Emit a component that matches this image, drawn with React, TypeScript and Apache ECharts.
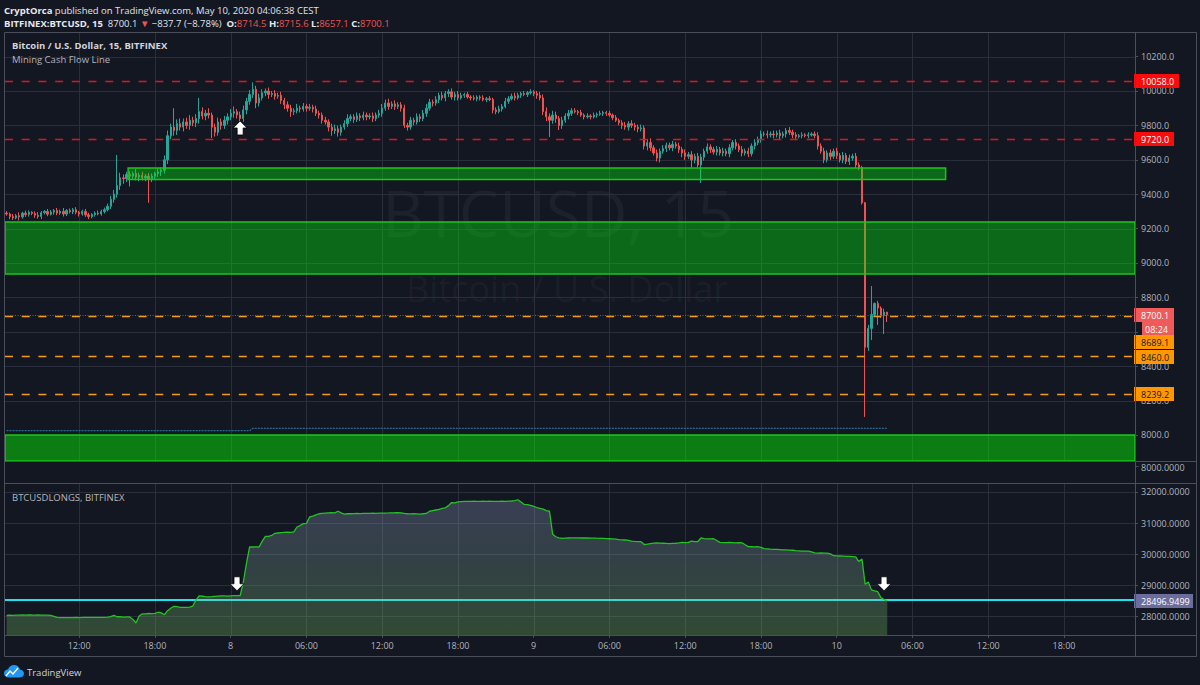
import React, { useEffect, useRef } from "react";
import * as echarts from "echarts";

echarts.graphic.registerShape(
  "tvcloud",
  echarts.graphic.extendPath(
    "M5,14 C2.2,14 0,11.8 0,9.2 C0,6.8 1.8,5 4.1,4.7 C4.8,2 7.2,0 10,0 C13,0 15.4,2.2 15.9,5 C18.2,5.2 20,7 20,9.4 C20,12 17.9,14 15.4,14 Z",
    {}
  )
);

// ---------------- DATA ----------------
const startTime = Date.UTC(2020, 4, 7, 6, 15); // first 15-minute bar: May 7 06:15
const totalSlots = 358; // bars visible across the time axis (incl. empty future space)
const firstOpen = 9290;

const closes = [
  9285, 9270, 9262, 9275, 9268, 9290, 9282, 9295, 9288, 9278,
  9270, 9292, 9300, 9284, 9296, 9305, 9290, 9300, 9285, 9305,
  9298, 9310, 9295, 9285, 9300, 9280, 9270, 9282, 9290, 9285,
  9300, 9310, 9330, 9370, 9400, 9450, 9495, 9490, 9515, 9505,
  9520, 9500, 9510, 9495, 9505, 9490, 9505, 9520, 9530, 9540,
  9600, 9740, 9790, 9770, 9810, 9790, 9820, 9800, 9830, 9815,
  9840, 9880, 9855, 9870, 9860, 9790, 9760, 9820, 9800, 9830,
  9850, 9870, 9880, 9860, 9840, 9890, 9940, 9980, 10010, 9930,
  9960, 9990, 10000, 9980, 9985, 9970, 9975, 9945, 9920, 9900,
  9880, 9885, 9900, 9895, 9910, 9900, 9905, 9895, 9870, 9860,
  9830, 9820, 9790, 9770, 9780, 9760, 9790, 9810, 9840, 9850,
  9835, 9855, 9845, 9860, 9850, 9855, 9840, 9860, 9870, 9900,
  9930, 9910, 9925, 9910, 9920, 9900, 9800, 9790, 9830, 9820,
  9850, 9840, 9870, 9900, 9935, 9930, 9950, 9975, 9960, 9985,
  9995, 9965, 9980, 9960, 9975, 9980, 9965, 9960, 9955, 9965,
  9960, 9950, 9955, 9950, 9890, 9880, 9895, 9910, 9940, 9955,
  9970, 9960, 9975, 9985, 9980, 9990, 9995, 9985, 9975, 9960,
  9880, 9850, 9830, 9860, 9840, 9800, 9830, 9855, 9870, 9885,
  9880, 9875, 9860, 9850, 9855, 9850, 9860, 9865, 9870, 9875,
  9870, 9860, 9845, 9830, 9815, 9800, 9790, 9810, 9800, 9790,
  9780, 9785, 9680, 9700, 9670, 9640, 9610, 9650, 9665, 9685,
  9670, 9690, 9680, 9660, 9640, 9620, 9630, 9600, 9620, 9570,
  9615, 9650, 9675, 9660, 9645, 9660, 9640, 9650, 9635, 9670,
  9700, 9680, 9660, 9640, 9650, 9635, 9680, 9700, 9720, 9750,
  9750, 9745, 9750, 9745, 9755, 9740, 9750, 9770, 9760, 9745,
  9735, 9740, 9745, 9740, 9745, 9750, 9740, 9680, 9650, 9600,
  9640, 9620, 9650, 9625, 9600, 9625, 9590, 9610, 9620, 9570,
  9555, 9350, 8510, 8620, 8700, 8765, 8738, 8695, 8714.5, 8700.1,
];

const upperWicks = [
  12, 8, 15, 10, 20, 8, 14, 10, 6, 12,
  18, 10, 8, 14, 12, 9, 15, 10, 20, 8,
  12, 10, 15, 8, 10, 14, 12, 8, 10, 15,
  10, 12, 15, 20, 25, 178, 30, 20, 15, 18,
  12, 25, 15, 20, 12, 18, 15, 10, 20, 15,
  25, 30, 20, 110, 25, 30, 20, 25, 30, 20,
  25, 80, 25, 20, 30, 15, 20, 25, 20, 25,
  20, 25, 30, 15, 20, 25, 20, 25, 40, 20,
  25, 20, 15, 20, 15, 20, 15, 20, 15, 20,
  20, 15, 25, 15, 20, 15, 20, 15, 20, 15,
  15, 20, 15, 20, 25, 20, 15, 20, 25, 15,
  15, 20, 15, 20, 15, 15, 20, 15, 20, 25,
  20, 25, 15, 20, 15, 15, 20, 15, 20, 15,
  20, 15, 20, 25, 20, 15, 20, 15, 20, 15,
  15, 20, 15, 20, 15, 10, 15, 10, 15, 10,
  10, 15, 10, 15, 10, 15, 20, 15, 20, 15,
  15, 20, 15, 10, 15, 10, 15, 10, 15, 20,
  20, 25, 20, 25, 20, 15, 20, 15, 20, 15,
  15, 10, 15, 10, 15, 10, 15, 10, 15, 10,
  10, 15, 10, 15, 10, 15, 20, 15, 20, 15,
  15, 20, 15, 20, 25, 15, 20, 15, 20, 15,
  15, 20, 15, 20, 15, 20, 15, 20, 15, 20,
  20, 15, 20, 15, 15, 20, 15, 20, 15, 20,
  15, 20, 15, 20, 15, 20, 15, 20, 15, 20,
  15, 20, 15, 20, 15, 20, 15, 15, 20, 15,
  15, 10, 15, 10, 15, 10, 15, 20, 15, 20,
  15, 20, 15, 20, 15, 20, 15, 20, 15, 20,
  15, 10, 5, 20, 166, 5, 15, 10, 20, 1.1,
];

const lowerWicks = [
  10, 15, 12, 8, 20, 10, 14, 12, 10, 15,
  12, 15, 10, 12, 8, 15, 12, 10, 15, 12,
  10, 14, 12, 15, 10, 12, 15, 10, 12, 8,
  10, 12, 10, 15, 20, 20, 25, 30, 20, 60,
  15, 20, 25, 15, 20, 140, 20, 15, 20, 25,
  20, 25, 20, 30, 25, 20, 25, 20, 25, 20,
  25, 30, 20, 25, 20, 63, 25, 20, 25, 20,
  25, 20, 25, 20, 30, 20, 25, 20, 20, 30,
  20, 15, 20, 25, 15, 20, 15, 20, 25, 20,
  30, 20, 15, 20, 15, 20, 15, 20, 15, 20,
  20, 15, 25, 30, 20, 25, 20, 15, 20, 15,
  20, 15, 20, 15, 20, 15, 20, 15, 15, 20,
  15, 20, 15, 20, 15, 20, 15, 20, 15, 20,
  15, 20, 15, 20, 15, 20, 15, 20, 15, 20,
  20, 15, 20, 15, 10, 15, 10, 15, 10, 15,
  15, 10, 15, 10, 20, 15, 10, 15, 10, 15,
  10, 15, 10, 15, 10, 15, 10, 15, 20, 15,
  20, 25, 97, 20, 25, 27, 20, 15, 20, 15,
  10, 15, 10, 15, 10, 15, 10, 15, 10, 15,
  15, 10, 15, 10, 15, 20, 15, 20, 15, 20,
  20, 15, 20, 25, 20, 15, 20, 25, 15, 20,
  15, 20, 15, 20, 25, 20, 15, 45, 20, 15,
  105, 20, 15, 20, 15, 20, 15, 20, 15, 20,
  15, 20, 15, 20, 15, 20, 15, 20, 15, 20,
  15, 20, 15, 20, 15, 20, 15, 20, 15, 20,
  15, 10, 15, 10, 15, 10, 15, 20, 15, 20,
  15, 20, 15, 20, 15, 20, 15, 20, 15, 20,
  15, 10, 405, 20, 68, 15, 98, 15, 108, 43,
];

const longs = [
  28030, 28035, 28032, 28040, 28038, 28042, 28040, 28045, 28042, 28040,
  28044, 28040, 28038, 28036, 28030, 28000, 27965, 27960, 27958, 27955,
  27958, 27960, 27962, 27960, 27962, 27965, 27964, 27966, 27965, 27968,
  27966, 27968, 27970, 27990, 28030, 27985, 27990, 27975, 27980, 27978,
  27900, 27785, 28010, 28080, 28075, 28090, 28086, 28095, 28130, 28110,
  28050, 28180, 28260, 28322, 28310, 28290, 28285, 28290, 28295, 28330,
  28520, 28654, 28645, 28630, 28625, 28630, 28640, 28650, 28660, 28655,
  28650, 28660, 28665, 28662, 28665, 29100, 29700, 30230, 30230, 30235,
  30230, 30420, 30574, 30570, 30600, 30670, 30680, 30690, 30700, 30710,
  30700, 30715, 30873, 30920, 30980, 30990, 31195, 31220, 31260, 31300,
  31310, 31320, 31330, 31335, 31330, 31380, 31330, 31290, 31300, 31300,
  31305, 31310, 31305, 31310, 31312, 31310, 31315, 31312, 31318, 31320,
  31322, 31325, 31330, 31332, 31335, 31330, 31310, 31300, 31298, 31300,
  31295, 31290, 31300, 31310, 31380, 31400, 31420, 31440, 31470, 31490,
  31560, 31660, 31650, 31680, 31690, 31695, 31700, 31700, 31705, 31700,
  31700, 31705, 31700, 31702, 31700, 31698, 31700, 31705, 31700, 31705,
  31710, 31720, 31750, 31680, 31600, 31590, 31570, 31540, 31500, 31470,
  31450, 31400, 31380, 30640, 30560, 30520, 30510, 30515, 30520, 30522,
  30525, 30522, 30520, 30521, 30520, 30518, 30515, 30512, 30510, 30505,
  30500, 30495, 30490, 30480, 30465, 30460, 30455, 30440, 30420, 30410,
  30405, 30400, 30310, 30320, 30340, 30355, 30360, 30355, 30350, 30345,
  30340, 30345, 30350, 30360, 30380, 30370, 30380, 30420, 30400, 30405,
  30520, 30500, 30490, 30490, 30495, 30440, 30380, 30370, 30372, 30375,
  30370, 30365, 30370, 30365, 30300, 30240, 30238, 30235, 30240, 30220,
  30180, 30170, 30160, 30155, 30150, 30145, 30140, 30135, 30130, 30125,
  30110, 30105, 30100, 30100, 30095, 30070, 30040, 30035, 30040, 30030,
  30030, 30010, 29950, 29945, 29940, 29935, 29930, 29925, 29920, 29910,
  29760, 29840, 29030, 29100, 28850, 28820, 28790, 28600, 28540, 28496.9499,
];

const priceTicks = [8000, 8200, 8400, 8600, 8800, 9000, 9200, 9400, 9600, 9800, 10000, 10200];
// 8600.0 is completely covered by the price tags in the reference, so its label is not drawn
const priceLabels = [8000, 8200, 8400, 8800, 9000, 9200, 9400, 9600, 9800, 10000, 10200];
const longsTicks = [28000, 29000, 30000, 31000, 32000];
const timeTickLabels = ["12:00", "18:00", "8", "06:00", "12:00", "18:00", "9", "06:00", "12:00", "18:00", "10", "06:00", "12:00", "18:00"];
const firstTickIndex = 23; // May 7 12:00
const barsPerTick = 24; // 6 hours of 15-minute bars

const priceMin = 7848.8;
const priceMax = 10337.2;
const longsMin = 27398;
const longsMax = 32289;

const levelPrices = [10058.0, 9720.0, 8689.1, 8460.0, 8239.2];
const lastPrice = 8700.1;
const longsLast = 28496.9499;
const countdown = "08:24";
const tagPrices = [10058.0, 9720.0, 8700.1, 8689.1, 8460.0, 8239.2];

const miningCashFlow = [[0, 8025], [77, 8025], [78, 8039], [279, 8039]];

const zoneTop = [9552, 9238, 8000];
const zoneBottom = [9485, 8936, 7700];
const zoneStart = [39, null, null];
const zoneEnd = [297, null, null];

const arrowsUp = [[74, 9785]];
const arrowsDown = [[73, 29046], [278, 29046]];

// ---------------- STYLE ----------------
const FONT = '"Open Sans", "Noto Sans", sans-serif';
const BG = "#131722";
const GRID_COLOR = "#2a2e3a";
const FRAME = "#4b4f5b";
const LABEL = "#b2b5be";
const UP = "#26a69a";
const DOWN = "#ef5350";

const categories = Array.from({ length: totalSlots }, (_, i) =>
  new Date(startTime + i * 15 * 60000).toISOString().slice(0, 16)
);
const tickIndices = timeTickLabels.map((_, k) => firstTickIndex + k * barsPerTick);
const isTick = (index: number) => index >= firstTickIndex && (index - firstTickIndex) % barsPerTick === 0;

const candles = closes.map((c, i) => {
  const o = i === 0 ? firstOpen : closes[i - 1];
  return [o, c, Math.min(o, c) - lowerWicks[i], Math.max(o, c) + upperWicks[i]];
});

const levelStyles = [
  { stroke: "#e51414", lineWidth: 1.5, lineDash: [8, 8.7] },
  { stroke: "#e51414", lineWidth: 1.5, lineDash: [8, 8.7] },
  { stroke: "#f59c12", lineWidth: 1.5, lineDash: [8, 8.7] },
  { stroke: "#f59c12", lineWidth: 1.5, lineDash: [8, 8.7] },
  { stroke: "#f59c12", lineWidth: 1.5, lineDash: [8, 8.7] },
  { stroke: "#b8403e", lineWidth: 1, lineDash: [1, 1.5] },
];

const zoneStyles = [
  { fill: "rgba(4,230,14,0.4)", stroke: "#1ec41e", lineWidth: 1.5 },
  { fill: "rgba(4,230,14,0.4)", stroke: "#1ec41e", lineWidth: 1.5 },
  { fill: "rgba(3,250,3,0.45)", stroke: "#1ec41e", lineWidth: 1.5 },
];

const tagStyles = [
  { bg: "#f80c0c", fg: "#ffffff", w: 45, dy: 0 },
  { bg: "#f80c0c", fg: "#ffffff", w: 40, dy: 0 },
  { bg: "#ef5a5a", fg: "#ffffff", w: 40, dy: 0 },
  { bg: "#ff9800", fg: "#131722", w: 40, dy: 26 },
  { bg: "#ff9800", fg: "#131722", w: 40, dy: 1 },
  { bg: "#ff9800", fg: "#131722", w: 40, dy: 0 },
];

const crisp = (v: number) => Math.round(v) + 0.5;

function hGridSeries(gridIndex: number, values: number[]) {
  return {
    type: "custom",
    xAxisIndex: gridIndex,
    yAxisIndex: gridIndex,
    z: 1,
    silent: true,
    data: values.map((v) => [0, v]),
    renderItem: (params: any, api: any) => {
      const cs = params.coordSys;
      const y = crisp(api.coord([0, api.value(1)])[1]);
      return {
        type: "line",
        shape: { x1: cs.x, y1: y, x2: cs.x + cs.width, y2: y },
        style: { stroke: GRID_COLOR, lineWidth: 1 },
      };
    },
  };
}

function vGridSeries(gridIndex: number, yRef: number) {
  return {
    type: "custom",
    xAxisIndex: gridIndex,
    yAxisIndex: gridIndex,
    z: 1,
    silent: true,
    data: tickIndices.map((i) => [i, yRef]),
    renderItem: (params: any, api: any) => {
      const cs = params.coordSys;
      const x = crisp(api.coord([api.value(0), yRef])[0]);
      return {
        type: "line",
        shape: { x1: x, y1: cs.y, x2: x, y2: cs.y + cs.height },
        style: { stroke: GRID_COLOR, lineWidth: 1 },
      };
    },
  };
}

function tagBox(x: number, yc: number, w: number, bg: string, fg: string, text: string, textX?: number) {
  return [
    { type: "rect", shape: { x, y: yc - 7, width: w, height: 14 }, style: { fill: bg } },
    {
      type: "text",
      x: textX ?? x + 7,
      y: yc,
      style: { text, fill: fg, fontSize: 9, fontFamily: FONT, verticalAlign: "middle", align: "left" },
    },
  ];
}

const headerRich = {
  b: { fontWeight: "bold", fill: "#e6e8ee", fontSize: 9.5, fontFamily: FONT },
  r: { fill: "#ef5350", fontSize: 9.5, fontFamily: FONT },
};

const option: any = {
  animation: false,
  backgroundColor: BG,
  textStyle: { fontFamily: FONT },
  grid: [
    { left: 5, top: 33, width: 1130, height: 428, show: false },
    { left: 5, top: 483, width: 1130, height: 152, show: false },
  ],
  xAxis: [
    {
      type: "category",
      gridIndex: 0,
      data: categories,
      boundaryGap: true,
      axisLine: { show: false },
      axisTick: { show: false },
      axisLabel: { show: false },
      splitLine: { show: false },
    },
    {
      type: "category",
      gridIndex: 1,
      data: categories,
      boundaryGap: true,
      axisLine: { show: true, lineStyle: { color: FRAME } },
      axisTick: { show: true, alignWithLabel: true, interval: isTick, length: 3, lineStyle: { color: FRAME } },
      axisLabel: {
        show: true,
        interval: isTick,
        formatter: (_v: string, index: number) => timeTickLabels[(index - firstTickIndex) / barsPerTick] ?? "",
        color: LABEL,
        fontSize: 9,
        fontFamily: FONT,
        margin: 6,
      },
      splitLine: { show: false },
    },
  ],
  yAxis: [
    {
      type: "value",
      gridIndex: 0,
      position: "right",
      min: priceMin,
      max: priceMax,
      axisLine: { show: true, lineStyle: { color: FRAME } },
      axisTick: { show: true, length: 3, customValues: priceTicks, lineStyle: { color: FRAME } },
      axisLabel: {
        customValues: priceLabels,
        formatter: (v: number) => v.toFixed(1),
        color: LABEL,
        fontSize: 9,
        fontFamily: FONT,
        margin: 6,
      },
      splitLine: { show: false },
    },
    {
      type: "value",
      gridIndex: 1,
      position: "right",
      min: longsMin,
      max: longsMax,
      axisLine: { show: true, lineStyle: { color: FRAME } },
      axisTick: { show: true, length: 3, customValues: longsTicks, lineStyle: { color: FRAME } },
      axisLabel: {
        customValues: longsTicks,
        formatter: (v: number) => v.toFixed(4),
        color: LABEL,
        fontSize: 9,
        fontFamily: FONT,
        margin: 6,
      },
      splitLine: { show: false },
    },
  ],
  series: [
    hGridSeries(0, priceTicks),
    vGridSeries(0, 9000),
    hGridSeries(1, longsTicks),
    vGridSeries(1, 30000),
    {
      type: "candlestick",
      name: "BTCUSD",
      xAxisIndex: 0,
      yAxisIndex: 0,
      z: 3,
      barWidth: 1.8,
      data: candles,
      itemStyle: { color: UP, color0: DOWN, borderColor: UP, borderColor0: DOWN, borderWidth: 1 },
    },
    {
      type: "line",
      name: "Mining Cash Flow Line",
      xAxisIndex: 0,
      yAxisIndex: 0,
      z: 3,
      showSymbol: false,
      data: miningCashFlow,
      lineStyle: { color: "#2a6a92", width: 1.3, type: [2, 1] },
    },
    {
      type: "custom",
      name: "zones",
      xAxisIndex: 0,
      yAxisIndex: 0,
      z: 4,
      silent: true,
      data: zoneTop.map((_, i) => [i, zoneTop[i]]),
      renderItem: (params: any, api: any) => {
        const i = params.dataIndex;
        const cs = params.coordSys;
        const bw = cs.width / totalSlots;
        const yTop = api.coord([0, zoneTop[i]])[1];
        const yBot = api.coord([0, zoneBottom[i]])[1];
        let x0 = cs.x;
        let x1 = cs.x + cs.width;
        if (zoneStart[i] != null) {
          x0 = api.coord([zoneStart[i], zoneTop[i]])[0] - bw / 2;
          x1 = api.coord([zoneEnd[i], zoneTop[i]])[0] + bw / 2;
        }
        const rect = echarts.graphic.clipRectByRect(
          { x: x0, y: yTop, width: x1 - x0, height: yBot - yTop },
          { x: cs.x, y: cs.y, width: cs.width, height: cs.height }
        );
        if (!rect) return null;
        return { type: "rect", shape: rect, style: zoneStyles[i] };
      },
    },
    {
      type: "custom",
      name: "levels",
      xAxisIndex: 0,
      yAxisIndex: 0,
      z: 5,
      silent: true,
      data: [...levelPrices, lastPrice].map((v) => [0, v]),
      renderItem: (params: any, api: any) => {
        const cs = params.coordSys;
        const y = crisp(api.coord([0, api.value(1)])[1]);
        return {
          type: "line",
          shape: { x1: cs.x, y1: y, x2: cs.x + cs.width, y2: y },
          style: levelStyles[params.dataIndex],
        };
      },
    },
    {
      type: "custom",
      name: "tags",
      xAxisIndex: 0,
      yAxisIndex: 0,
      z: 10,
      clip: false,
      silent: true,
      data: tagPrices.map((v) => [0, v]),
      renderItem: (params: any, api: any) => {
        const i = params.dataIndex;
        const cs = params.coordSys;
        const st = tagStyles[i];
        const x = cs.x + cs.width - 1;
        const yc = Math.round(api.coord([0, tagPrices[i]])[1] + st.dy);
        const children: any[] = tagBox(x, yc, st.w, st.bg, st.fg, tagPrices[i].toFixed(1));
        if (tagPrices[i] === lastPrice) {
          children.push(...tagBox(x + 8, yc + 14, st.w - 8, st.bg, st.fg, countdown, x + 11));
        }
        return { type: "group", children };
      },
    },
    {
      type: "scatter",
      xAxisIndex: 0,
      yAxisIndex: 0,
      z: 11,
      silent: true,
      symbol: "path://M7,0L14,7L10,7L10,14L4,14L4,7L0,7Z",
      symbolSize: [14, 14],
      itemStyle: { color: "#ffffff", borderColor: "#000000", borderWidth: 0.8, opacity: 1 },
      data: arrowsUp,
    },
    {
      type: "custom",
      name: "longs level",
      xAxisIndex: 1,
      yAxisIndex: 1,
      z: 2,
      silent: true,
      data: [[0, longsLast]],
      renderItem: (params: any, api: any) => {
        const cs = params.coordSys;
        const y = Math.round(api.coord([0, longsLast])[1]) - 1;
        return {
          type: "line",
          shape: { x1: cs.x, y1: y, x2: cs.x + cs.width, y2: y },
          style: { stroke: "#1ee3ee", lineWidth: 2 },
        };
      },
    },
    {
      type: "line",
      name: "BTCUSDLONGS",
      xAxisIndex: 1,
      yAxisIndex: 1,
      z: 3,
      showSymbol: false,
      data: longs,
      lineStyle: { color: "#22c322", width: 1.3 },
      areaStyle: {
        origin: "start",
        color: new echarts.graphic.LinearGradient(0, 0, 0, 1, [
          { offset: 0, color: "rgba(150,156,205,0.42)" },
          { offset: 0.45, color: "rgba(130,170,160,0.4)" },
          { offset: 1, color: "rgba(118,198,92,0.42)" },
        ]),
      },
    },
    {
      type: "custom",
      name: "longs tag",
      xAxisIndex: 1,
      yAxisIndex: 1,
      z: 10,
      clip: false,
      silent: true,
      data: [[0, longsLast]],
      renderItem: (params: any, api: any) => {
        const cs = params.coordSys;
        const x = cs.x + cs.width - 1;
        const yc = Math.round(api.coord([0, longsLast])[1]);
        return { type: "group", children: tagBox(x, yc, 59, "#6b6d9d", "#ffffff", longsLast.toFixed(4)) };
      },
    },
    {
      type: "scatter",
      xAxisIndex: 1,
      yAxisIndex: 1,
      z: 11,
      silent: true,
      symbol: "path://M4,0L10,0L10,7L14,7L7,14L0,7L4,7Z",
      symbolSize: [14, 14],
      itemStyle: { color: "#ffffff", borderColor: "#000000", borderWidth: 0.8, opacity: 1 },
      data: arrowsDown,
    },
  ],
  graphic: [
    // watermark
    {
      type: "text",
      z: 0,
      silent: true,
      x: 558,
      y: 212,
      style: {
        text: "BTCUSD, 15",
        fill: "rgba(255,255,255,0.045)",
        fontSize: 64,
        fontFamily: FONT,
        align: "center",
        verticalAlign: "middle",
      },
    },
    {
      type: "text",
      z: 0,
      silent: true,
      x: 567,
      y: 288,
      style: {
        text: "Bitcoin / U.S. Dollar",
        fill: "rgba(255,255,255,0.045)",
        fontSize: 36,
        fontFamily: FONT,
        align: "center",
        verticalAlign: "middle",
      },
    },
    // header
    {
      type: "text",
      z: 50,
      x: 4,
      y: 10,
      style: {
        text: "{b|CryptOrca} published on TradingView.com, May 10, 2020 04:06:38 CEST",
        fill: "#e0e3eb",
        fontSize: 9.5,
        fontFamily: FONT,
        verticalAlign: "middle",
        rich: headerRich,
      },
    },
    {
      type: "text",
      z: 50,
      x: 4,
      y: 23,
      style: {
        text: "{b|BITFINEX:BTCUSD, 15}  8700.1 {r|▼} −837.7 (−8.78%)  {b|O:}{r|8714.5} {b|H:}{r|8715.6} {b|L:}{r|8657.1} {b|C:}{r|8700.1}",
        fill: "#e0e3eb",
        fontSize: 9.5,
        fontFamily: FONT,
        verticalAlign: "middle",
        rich: headerRich,
      },
    },
    {
      type: "text",
      z: 50,
      x: 12,
      y: 45,
      style: {
        text: "Bitcoin / U.S. Dollar, 15, BITFINEX",
        fill: "#d1d4dc",
        fontSize: 9.5,
        fontWeight: "bold",
        fontFamily: FONT,
        verticalAlign: "middle",
      },
    },
    {
      type: "text",
      z: 50,
      x: 12,
      y: 59,
      style: { text: "Mining Cash Flow Line", fill: LABEL, fontSize: 9.5, fontFamily: FONT, verticalAlign: "middle" },
    },
    {
      type: "text",
      z: 50,
      x: 12,
      y: 497,
      style: { text: "BTCUSDLONGS, BITFINEX", fill: LABEL, fontSize: 9.5, fontFamily: FONT, verticalAlign: "middle" },
    },
    // frame and separators
    {
      type: "rect",
      z: 60,
      silent: true,
      shape: { x: 4.5, y: 32.5, width: 1192, height: 624 },
      style: { fill: "none", stroke: FRAME, lineWidth: 1 },
    },
    { type: "line", z: 60, silent: true, shape: { x1: 4.5, y1: 461.5, x2: 1196.5, y2: 461.5 }, style: { stroke: FRAME, lineWidth: 1 } },
    { type: "line", z: 60, silent: true, shape: { x1: 4.5, y1: 483.5, x2: 1196.5, y2: 483.5 }, style: { stroke: FRAME, lineWidth: 1 } },
    { type: "line", z: 60, silent: true, shape: { x1: 4.5, y1: 635.5, x2: 1196.5, y2: 635.5 }, style: { stroke: FRAME, lineWidth: 1 } },
    { type: "line", z: 60, silent: true, shape: { x1: 1135.5, y1: 32.5, x2: 1135.5, y2: 656.5 }, style: { stroke: FRAME, lineWidth: 1 } },
    { type: "line", z: 60, silent: true, shape: { x1: 1135.5, y1: 466.5, x2: 1138.5, y2: 466.5 }, style: { stroke: FRAME, lineWidth: 1 } },
    {
      type: "text",
      z: 50,
      x: 1141,
      y: 467,
      style: { text: "8000.0000", fill: LABEL, fontSize: 9, fontFamily: FONT, verticalAlign: "middle" },
    },
    // TradingView logo
    { type: "tvcloud", z: 50, x: 4, y: 665, scaleX: 1, scaleY: 0.9, style: { fill: "#2196f3" } },
    {
      type: "polyline",
      z: 51,
      shape: { points: [[6, 676], [10, 671], [13, 674], [18, 668]] },
      style: { stroke: "#ffffff", lineWidth: 1.4, fill: null },
    },
    {
      type: "text",
      z: 50,
      x: 27,
      y: 672,
      style: { text: "TradingView", fill: "#d1d4dc", fontSize: 9.5, fontFamily: FONT, verticalAlign: "middle" },
    },
  ],
};

export default function App() {
  const ref = useRef<HTMLDivElement>(null);
  useEffect(() => {
    document.body.style.margin = "0";
    document.body.style.background = BG;
    const chart = echarts.init(ref.current as HTMLDivElement, null, { renderer: "svg" });
    chart.setOption(option);
    return () => chart.dispose();
  }, []);
  return <div ref={ref} style={{ position: "absolute", left: 0, top: 0, width: 1200, height: 685 }} />;
}
